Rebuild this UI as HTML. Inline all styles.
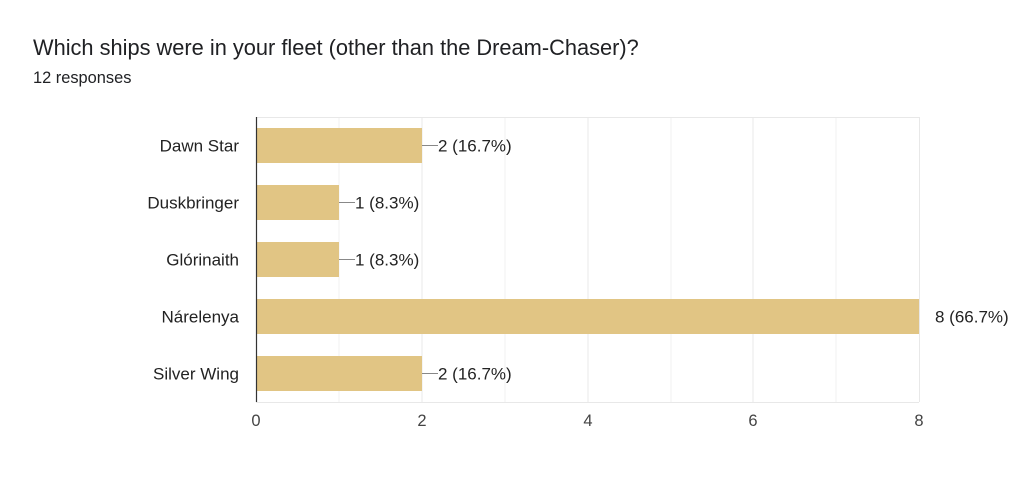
<!DOCTYPE html>
<html><head><style>
body{margin:0;background:#fff;width:1022px;height:486px;overflow:hidden;font-family:"Liberation Sans",Arial,sans-serif}
</style></head><body>
<svg width="1022" height="486" xmlns="http://www.w3.org/2000/svg" font-family="Liberation Sans, Arial, sans-serif">
<text x="33" y="55" font-size="21.8" fill="#202124">Which ships were in your fleet (other than the Dream-Chaser)?</text>
<text x="33" y="83" font-size="16.4" fill="#202124">12 responses</text>
<g stroke="#f1f1f1" stroke-width="1">
<line x1="339" y1="117" x2="339" y2="402"/><line x1="505" y1="117" x2="505" y2="402"/>
<line x1="671" y1="117" x2="671" y2="402"/><line x1="836" y1="117" x2="836" y2="402"/>
</g>
<g stroke="#e8e8e8" stroke-width="1">
<line x1="256" y1="117.5" x2="919" y2="117.5"/><line x1="256" y1="402.5" x2="919" y2="402.5"/>
<line x1="422" y1="117" x2="422" y2="402"/><line x1="588" y1="117" x2="588" y2="402"/>
<line x1="753" y1="117" x2="753" y2="402"/><line x1="919.5" y1="117" x2="919.5" y2="402"/>
</g>
<g fill="#e1c584">
<rect x="257" y="128" width="165" height="35"/>
<rect x="257" y="185" width="82" height="35"/>
<rect x="257" y="242" width="82" height="35"/>
<rect x="257" y="299" width="662" height="35"/>
<rect x="257" y="356" width="165" height="35"/>
</g>
<line x1="256.5" y1="117" x2="256.5" y2="402" stroke="#333" stroke-width="1.2"/>
<g stroke="#888" stroke-width="1">
<line x1="422" y1="145.5" x2="438" y2="145.5"/><line x1="339" y1="202.5" x2="355" y2="202.5"/>
<line x1="339" y1="259.5" x2="355" y2="259.5"/><line x1="422" y1="373.5" x2="438" y2="373.5"/>
</g>
<g font-size="17" fill="#222">
<text x="438" y="151.5">2 (16.7%)</text>
<text x="355" y="208.5">1 (8.3%)</text>
<text x="355" y="265.5">1 (8.3%)</text>
<text x="935" y="322.5">8 (66.7%)</text>
<text x="438" y="379.5">2 (16.7%)</text>
</g>
<g font-size="17" fill="#222" text-anchor="end">
<text x="239" y="151.5">Dawn Star</text>
<text x="239" y="208.5">Duskbringer</text>
<text x="239" y="265.5">Glórinaith</text>
<text x="239" y="322.5">Nárelenya</text>
<text x="239" y="379.5">Silver Wing</text>
</g>
<g font-size="16.5" fill="#444" text-anchor="middle">
<text x="256" y="426">0</text><text x="422" y="426">2</text><text x="588" y="426">4</text>
<text x="753" y="426">6</text><text x="919" y="426">8</text>
</g>
</svg>
</body></html>
